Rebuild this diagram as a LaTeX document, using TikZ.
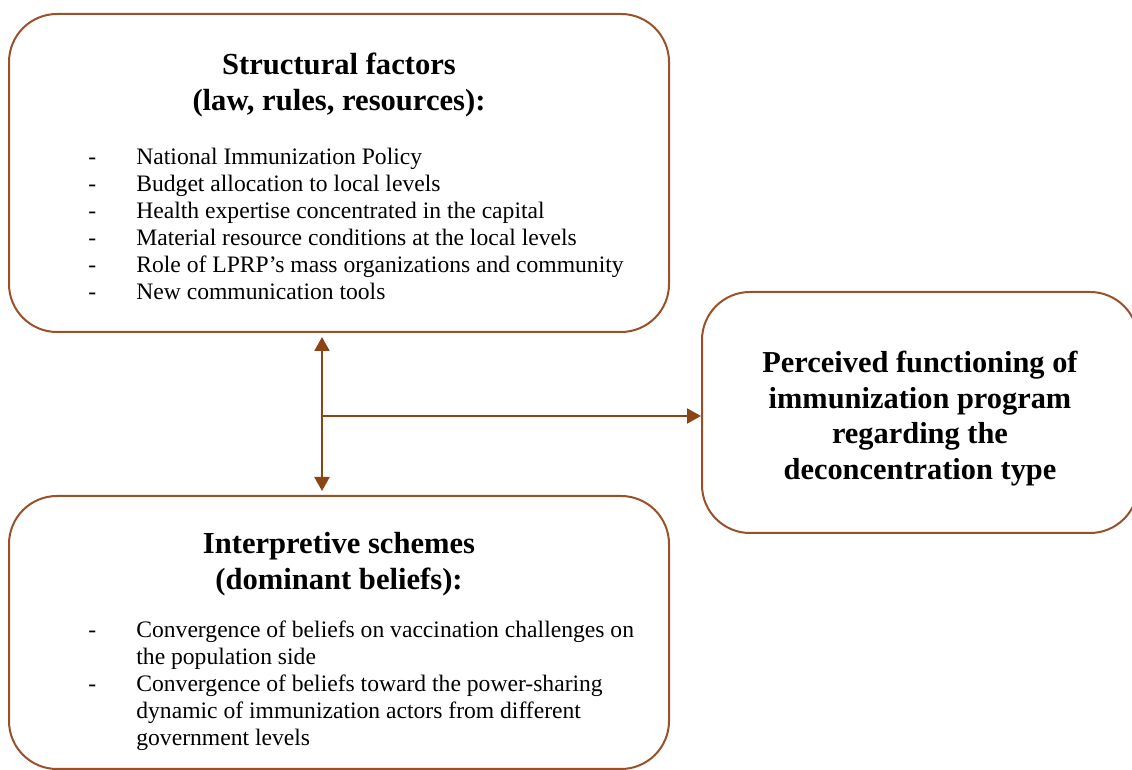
\documentclass[tikz,border=0pt]{standalone}
\usepackage{fontspec}
\setmainfont{Liberation Serif}
\usepackage{tikz}
\usetikzlibrary{arrows.meta,positioning}

\definecolor{boxbrown}{RGB}{155,80,40}
\definecolor{arrowbrown}{RGB}{140,68,20}

\tikzset{
  factorbox/.style={draw=boxbrown, line width=1pt, rounded corners=24pt},
  titletext/.style={font=\fontsize{15.3}{18}\selectfont\bfseries, align=center},
  itemtext/.style={font=\fontsize{11.8}{13.45}\selectfont, inner sep=0pt, anchor=base west},
  link/.style={draw=arrowbrown, line width=1pt},
  linkhead/.style={-{Triangle[length=7pt,width=7.5pt]}}
}

\begin{document}
\begin{tikzpicture}[x=0.5pt,y=-0.5pt]
    \useasboundingbox (0,0) rectangle (1132,770);
    % boxes
    \node[factorbox, minimum width=330pt, minimum height=159pt] (structural) at (339,173) {};
    \node[factorbox, minimum width=330pt, minimum height=136.5pt] (interpretive) at (339,632.5) {};
    \node[factorbox, minimum width=218pt, minimum height=120.5pt] (perceived) at (920,412.5) {};
    % titles
    \node[titletext] (structuraltitle) at (339,85) {Structural factors\\(law, rules, resources):};
    \node[titletext] (interpretivetitle) at (339,564) {Interpretive schemes\\(dominant beliefs):};
    \node[titletext, font=\fontsize{15.2}{17.75}\selectfont\bfseries] (perceivedtitle) at (920,418.5)
          {Perceived functioning of\\immunization program\\regarding the\\deconcentration type};
    % lists
    \node[itemtext] (structurallist) at (88,165) {\begin{tabular}[t]{@{}p{24pt}@{}p{290pt}@{}}
      - & National Immunization Policy\\
      - & Budget allocation to local levels\\
      - & Health expertise concentrated in the capital\\
      - & Material resource conditions at the local levels\\
      - & Role of LPRP’s mass organizations and community\\
      - & New communication tools
    \end{tabular}};
    \node[itemtext] (interpretivelist) at (88,638) {\begin{tabular}[t]{@{}p{24pt}@{}p{290pt}@{}}
      - & Convergence of beliefs on vaccination challenges on\newline the population side\\
      - & Convergence of beliefs toward the power-sharing\newline dynamic of immunization actors from different\newline government levels
    \end{tabular}};
    % connectors
    \coordinate (junction) at (322,416);
    \draw[link, {Triangle[length=7pt,width=7.5pt]}-{Triangle[length=7pt,width=7.5pt]}, shorten <=2pt, shorten >=2pt]
        (junction |- structural.south) -- (junction |- interpretive.north);
    \draw[link, linkhead] (junction) -- (junction -| perceived.west);
\end{tikzpicture}
\end{document}
